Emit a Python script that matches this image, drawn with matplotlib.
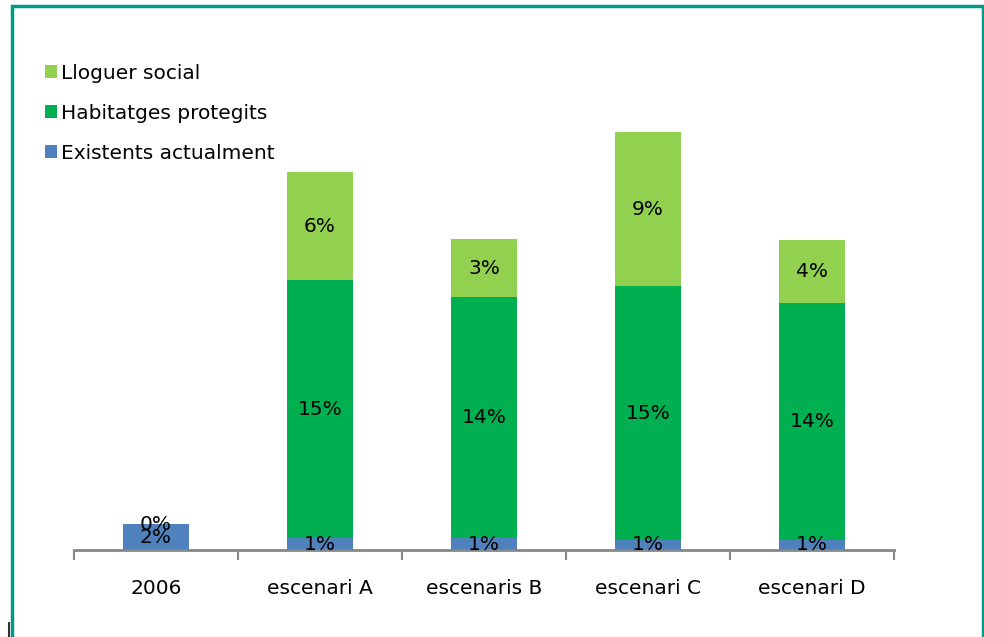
import matplotlib
matplotlib.use("Agg")
import matplotlib.pyplot as plt
from matplotlib.patches import Rectangle
from matplotlib.lines import Line2D
import numpy as np

# ---- data (% of housing stock) ----
categories = ["2006", "escenari A", "escenaris B", "escenari C", "escenari D"]
existents = [1.52, 0.70, 0.70, 0.60, 0.60]
protegits = [0.0, 15.35, 14.35, 15.10, 14.10]
lloguer = [None, 6.45, 3.45, 9.20, 3.75]

series_names = ["Existents actualment", "Habitatges protegits", "Lloguer social"]
colors = ["#4F81BD", "#00B050", "#92D050"]

plt.rcParams['font.family'] = ['DejaVu Sans']
FS = 14.5

fig = plt.figure(figsize=(9.84, 6.37), dpi=100)
ax = fig.add_axes([0.0752, 0.1366, 0.8333, 0.791])

x = np.arange(len(categories))
width = 0.40

ll = np.array([v if v is not None else 0.0 for v in lloguer])
ax.bar(x, existents, width, color=colors[0], label=series_names[0])
ax.bar(x, protegits, width, bottom=existents, color=colors[1], label=series_names[1])
ax.bar(x[1:], ll[1:], width, bottom=np.add(existents, protegits)[1:],
       color=colors[2], label=series_names[2])

# value labels in the middle of each segment
bottoms = np.zeros(len(categories))
for vals in [existents, protegits, lloguer]:
    for i, v in enumerate(vals):
        if v is None:
            continue
        ax.text(x[i], bottoms[i] + v / 2, "{:.0f}%".format(v),
                ha="center", va="center", fontsize=FS, color="black")
        bottoms[i] += v

ax.set_xlim(-0.5, len(categories) - 0.5)
ax.set_ylim(0, 30)
ax.set_yticks([])
for s in ["top", "right", "left"]:
    ax.spines[s].set_visible(False)
ax.spines["bottom"].set_color("#878787")
ax.spines["bottom"].set_linewidth(2)

# major ticks at the category boundaries, labels on minor ticks at the centres
ax.set_xticks(np.arange(-0.5, len(categories), 1.0))
ax.set_xticklabels([])
ax.tick_params(axis="x", which="major", length=7, width=1.5, color="#878787", direction="out")
ax.set_xticks(x, minor=True)
ax.set_xticklabels(categories, minor=True, fontsize=FS)
ax.tick_params(axis="x", which="minor", length=0, pad=21)

# legend, last series on top
h, l = ax.get_legend_handles_labels()
fig.legend(h[::-1], l[::-1], loc="upper left", bbox_to_anchor=(0.046, 0.900),
           frameon=False, fontsize=FS, handlelength=0.6, handleheight=0.6,
           handletextpad=0.2, labelspacing=1.05, borderaxespad=0, borderpad=0)

# outer frame
fig.patches.append(Rectangle((0.0125, -0.02), 0.986, 1.011, transform=fig.transFigure,
                             fill=False, edgecolor="#00998A", linewidth=2.5))
fig.lines.append(Line2D([0.0095, 0.0095], [0.0, 0.022], transform=fig.transFigure,
                        color="#333333", linewidth=1.5))

fig.savefig("out.png", dpi=100)
